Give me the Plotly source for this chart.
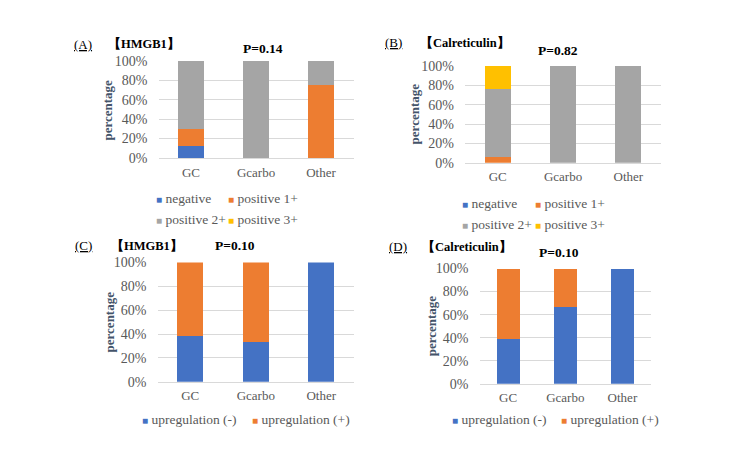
import plotly.graph_objects as go

W, H = 750, 463

categories = ["GC", "Gcarbo", "Other"]

# Panel A: HMGB1 expression (percentage)
a_negative = [11.8, 0, 0]
a_pos1 = [17.6, 0, 75.0]
a_pos2 = [70.6, 100, 25.0]
a_pos3 = [0, 0, 0]

# Panel B: Calreticulin expression (percentage)
b_negative = [0, 0, 0]
b_pos1 = [5.9, 0, 0]
b_pos2 = [70.6, 100, 100]
b_pos3 = [23.5, 0, 0]

# Panel C: HMGB1 upregulation (percentage)
c_up_neg = [38.5, 33.3, 100]
c_up_pos = [61.5, 66.7, 0]

# Panel D: Calreticulin upregulation (percentage)
d_up_neg = [38.9, 66.7, 100]
d_up_pos = [61.1, 33.3, 0]

ytick_vals = [0, 20, 40, 60, 80, 100]
ytick_text = ["0%", "20%", "40%", "60%", "80%", "100%"]

expr_names = ["negative", "positive 1+", "positive 2+", "positive 3+"]
up_names = ["upregulation (-)", "upregulation (+)"]

BLUE, ORANGE, GRAY, YELLOW = "#4472C4", "#ED7D31", "#A5A5A5", "#FFC000"
FONT = "Liberation Serif, Times New Roman, serif"
TXT = "#595959"


def X(px):
    return px / W


def Y(py):
    return 1 - py / H


fig = go.Figure()

# panel geometry (pixels): left, right, top(100%), bottom(0%)
panels = {
    "A": dict(ax="", box=(158.5, 353.5, 55.7, 156)),
    "B": dict(ax="2", box=(465, 661, 61, 161)),
    "C": dict(ax="3", box=(157.5, 354, 264, 387.3)),
    "D": dict(ax="4", box=(479.5, 651, 270.3, 389.3)),
}

# legend slots: (legend id, swatch-left x px, row centre y px)
legend_slots = {
    "A": [("legend", 157, 197), ("legend2", 229, 197), ("legend3", 157, 219), ("legend4", 229, 219)],
    "B": [("legend5", 463, 203), ("legend6", 536, 203), ("legend7", 463, 224), ("legend8", 536, 224)],
    "C": [("legend9", 143, 426), ("legend10", 253, 426)],
    "D": [("legend11", 453, 426), ("legend12", 562, 426)],
}


def add_bars(key, series, names, colors):
    ax = panels[key]["ax"]
    for vals, name, col, slot in zip(series, names, colors, legend_slots[key]):
        fig.add_trace(go.Bar(x=categories, y=vals, name=name, marker=dict(color=col, line=dict(width=0)),
                             showlegend=False, xaxis="x" + ax, yaxis="y" + ax, hoverinfo="skip"))
        label = '<span style="font-size:10px;color:%s">■</span> %s' % (col, name)
        fig.add_trace(go.Scatter(x=[None], y=[None], mode="markers", name=label,
                                 marker=dict(symbol="square", size=1, color="rgba(0,0,0,0)",
                                             line=dict(width=0)),
                                 legend=slot[0], xaxis="x" + ax, yaxis="y" + ax, showlegend=True))


add_bars("A", [a_negative, a_pos1, a_pos2, a_pos3], expr_names, [BLUE, ORANGE, GRAY, YELLOW])
add_bars("B", [b_negative, b_pos1, b_pos2, b_pos3], expr_names, [BLUE, ORANGE, GRAY, YELLOW])
add_bars("C", [c_up_neg, c_up_pos], up_names, [BLUE, ORANGE])
add_bars("D", [d_up_neg, d_up_pos], up_names, [BLUE, ORANGE])

layout = dict(
    width=W, height=H, margin=dict(l=0, r=0, t=0, b=0),
    paper_bgcolor="white", plot_bgcolor="white",
    barmode="stack", bargap=0.6,
    font=dict(family=FONT, color=TXT),
)

for key, p in panels.items():
    ax = p["ax"]
    l, r, t, b = p["box"]
    layout["xaxis" + ax] = dict(domain=[X(l), X(r)], anchor="y" + ax, type="category", range=[-0.5, 2.5],
                                showgrid=False, showline=True, linecolor="#D9D9D9", linewidth=1,
                                ticks="", tickfont=dict(family=FONT, size=13, color=TXT), ticklabelstandoff=2,
                                fixedrange=True)
    layout["yaxis" + ax] = dict(domain=[Y(b), Y(t)], anchor="x" + ax, range=[0, 100],
                                tickvals=ytick_vals, ticktext=ytick_text, showgrid=True, gridcolor="#D9D9D9",
                                gridwidth=1, zeroline=False, showline=False, ticks="",
                                tickfont=dict(family=FONT, size=14, color=TXT), ticklabelstandoff=10,
                                fixedrange=True)

for key, slots in legend_slots.items():
    for lid, sx, ty in slots:
        layout[lid] = dict(orientation="h", x=X(sx - 41), y=Y(ty), xanchor="left", yanchor="middle",
                           font=dict(family=FONT, size=13.5, color=TXT), traceorder="normal",
                           bgcolor="rgba(0,0,0,0)", borderwidth=0, itemclick=False, itemdoubleclick=False)

annotations = []


def text(xpx, ypx, s, size=13, color="black", bold=False, xanchor="left", angle=0):
    annotations.append(dict(x=X(xpx), y=Y(ypx), xref="paper", yref="paper",
                            text=("<b>%s</b>" % s) if bold else s,
                            showarrow=False, xanchor=xanchor, yanchor="middle", textangle=angle,
                            font=dict(family=FONT, size=size, color=color)))


# panel labels
text(72, 39, "<u>(A)</u>", 13)
text(106, 38, "【HMGB1】", 12.5, bold=True)
text(262.5, 43, "P=0.14", 13.5, bold=True, xanchor="center")

text(383, 37, "<u>(B)</u>", 13)
text(418, 37, "【Calreticulin】", 12.5, bold=True)
text(558, 45, "P=0.82", 13.5, bold=True, xanchor="center")

text(73, 246, "<u>(C)</u>", 13)
text(109, 246, "【HMGB1】", 12.5, bold=True)
text(235, 247, "P=0.10", 13.5, bold=True, xanchor="center")

text(387, 248, "<u>(D)</u>", 13)
text(420, 248, "【Calreticulin】", 12.5, bold=True)
text(559, 254, "P=0.10", 13.5, bold=True, xanchor="center")

# y-axis titles
for xpx, ypx in [(108, 106), (414, 111), (109, 326), (431, 330)]:
    text(xpx, ypx, "percentage", 13, color="#44546A", bold=True, xanchor="center", angle=-90)

layout["annotations"] = annotations
fig.update_layout(**layout)

fig.write_html("out.html")
